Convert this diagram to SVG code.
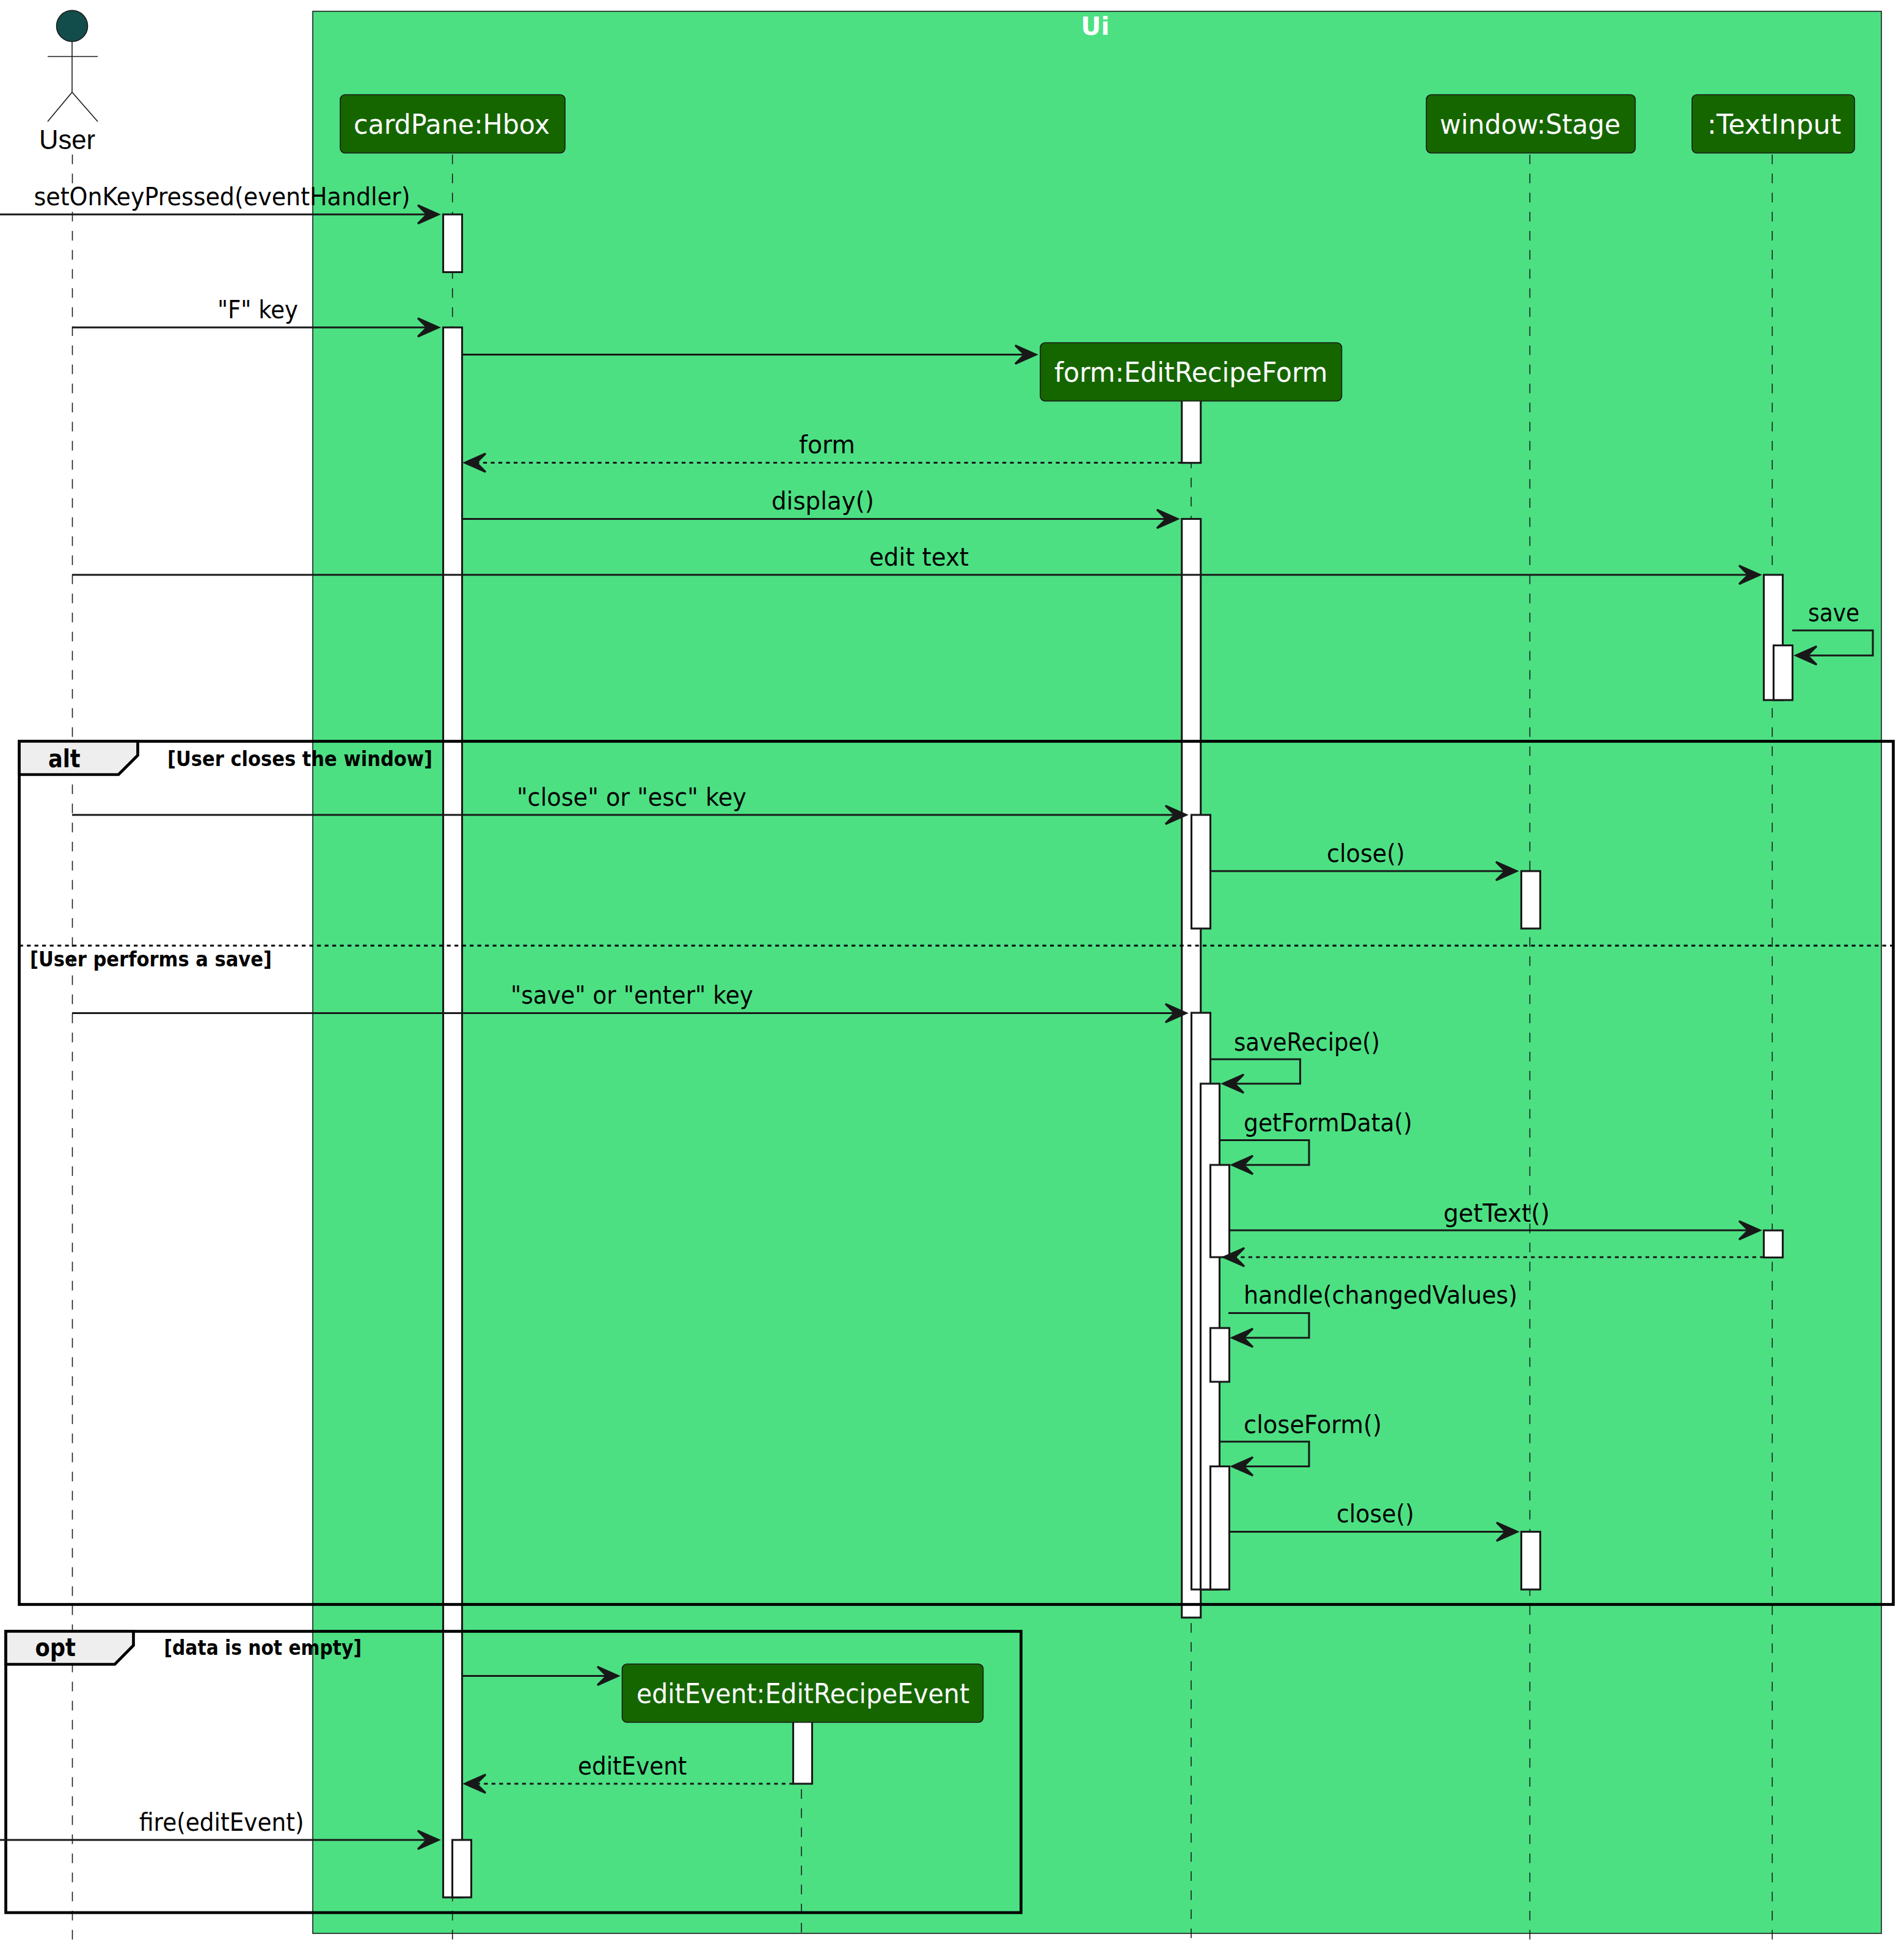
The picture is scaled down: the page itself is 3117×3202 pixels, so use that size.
<svg xmlns="http://www.w3.org/2000/svg" width="3117" height="3202" viewBox="0 0 3117 3202">
<style>
text{font-family:"DejaVu Sans","Open Sans",sans-serif;fill:#000}
.m{font-size:40.6px}
.p{font-size:43.75px;fill:#fff}
.fl{font-size:40.6px;font-weight:bold}
.c{font-size:34.4px;font-weight:bold}
.life{stroke:#181818;stroke-width:1.56;stroke-dasharray:15.625 15.625;fill:none}
.act{fill:#fff;stroke:#181818;stroke-width:3.1}
.box{fill:#166600;stroke:#181818;stroke-width:1.56}
.msg{stroke:#181818;stroke-width:3.1;fill:none;marker-end:url(#arr)}
.ret{stroke:#181818;stroke-width:3.1;fill:none;stroke-dasharray:6.25 6.25;marker-end:url(#arr)}
.frame{fill:none;stroke:#000;stroke-width:4.7}
.tab{fill:#eee;stroke:#000;stroke-width:4.7}
.actor{fill:none;stroke:#181818;stroke-width:1.56}
</style>
<defs>
<marker id="arr" markerUnits="userSpaceOnUse" markerWidth="46" markerHeight="40" refX="23" refY="20" orient="auto">
<path d="M2 5 L36 20 L2 35 L17 20 Z" fill="#181818" stroke="#181818" stroke-width="3.1"/>
</marker>
</defs>
<rect width="3117" height="3202" fill="#fff"/>
<g id="ui-box">
<rect x="512" y="18.5" width="2568" height="3146.5" fill="#4ce083" stroke="#181818" stroke-width="1.56"/>
<text x="1793" y="57" text-anchor="middle" font-size="40.6" font-weight="bold" style="fill:#fff">Ui</text>
</g>
<g id="user">
<line class="life" x1="118.5" y1="253" x2="118.5" y2="3175"/>
<ellipse cx="118" cy="42.5" rx="25.5" ry="25.5" fill="#134d4b" stroke="#181818" stroke-width="1.56"/>
<path class="actor" d="M118 68V151M78 92.5H160M78 199L118 151L160 199"/>
<text x="64" y="244" font-size="43.75" style="font-family:'Liberation Sans',Arial,sans-serif" textLength="92" lengthAdjust="spacingAndGlyphs">User</text>
</g>
<g id="cardPane">
<line class="life" x1="740.7" y1="253" x2="740.7" y2="3175"/>
<rect class="act" x="725.5" y="351" width="31" height="94.5"/>
<rect class="act" x="725.5" y="536" width="31" height="2570"/>
<rect class="act" x="740.5" y="3012" width="31" height="94"/>
<rect class="box" x="557" y="155" width="368" height="95.5" rx="8"/>
<text class="p" x="579" y="219" textLength="321" lengthAdjust="spacingAndGlyphs">cardPane:Hbox</text>
</g>
<g id="form">
<line class="life" x1="1950" y1="657" x2="1950" y2="3175"/>
<rect class="act" x="1934.7" y="640" width="31" height="117.7"/>
<rect class="act" x="1934.7" y="849.5" width="31" height="1798.5"/>
<rect class="act" x="1950.5" y="1334" width="31" height="186"/>
<rect class="act" x="1950.5" y="1658" width="31" height="944"/>
<rect class="act" x="1965.5" y="1774" width="31" height="828"/>
<rect class="act" x="1981.5" y="1907" width="31" height="151"/>
<rect class="act" x="1981.5" y="2174" width="31" height="88"/>
<rect class="act" x="1981.5" y="2400.5" width="31" height="201.5"/>
<rect class="box" x="1703" y="561" width="493.5" height="95.5" rx="8"/>
<text class="p" x="1726" y="625" textLength="447.5" lengthAdjust="spacingAndGlyphs">form:EditRecipeForm</text>
</g>
<g id="window">
<line class="life" x1="2504.5" y1="253" x2="2504.5" y2="3175"/>
<rect class="act" x="2490.5" y="1426" width="31" height="94"/>
<rect class="act" x="2490.5" y="2507.5" width="31" height="94.5"/>
<rect class="box" x="2335" y="155" width="342" height="95.5" rx="8"/>
<text class="p" x="2357" y="219" textLength="296" lengthAdjust="spacingAndGlyphs">window:Stage</text>
</g>
<g id="textInput">
<line class="life" x1="2901.3" y1="253" x2="2901.3" y2="3175"/>
<rect class="act" x="2887.5" y="941" width="31" height="205"/>
<rect class="act" x="2903.5" y="1056.5" width="31" height="89.5"/>
<rect class="act" x="2887.5" y="2014.2" width="31" height="44.3"/>
<rect class="box" x="2770" y="155" width="266" height="95.5" rx="8"/>
<text class="p" x="2795" y="219" textLength="219" lengthAdjust="spacingAndGlyphs">:TextInput</text>
</g>
<g id="editEvent">
<line class="life" x1="1312" y1="2804" x2="1312" y2="3175"/>
<rect class="act" x="1298.5" y="2800" width="31" height="120"/>
<rect class="box" x="1018.5" y="2724" width="591" height="95.5" rx="8"/>
<text class="p" x="1042" y="2787.5" textLength="545" lengthAdjust="spacingAndGlyphs">editEvent:EditRecipeEvent</text>
</g>
<g id="frames">
<g id="alt">
<rect class="frame" x="31.5" y="1213.5" width="3068" height="1413"/>
<path class="tab" d="M31.5 1213.5H225.5V1236.5L194 1268H31.5Z"/>
<text class="fl" x="79" y="1255.5" textLength="52.5" lengthAdjust="spacingAndGlyphs">alt</text>
<text class="c" x="274" y="1253.5" textLength="434" lengthAdjust="spacingAndGlyphs">[User closes the window]</text>
<line x1="31.5" y1="1548" x2="3099.5" y2="1548" stroke="#000" stroke-width="3.1" stroke-dasharray="6.25 6.25"/>
<text class="c" x="49" y="1581.5" textLength="396" lengthAdjust="spacingAndGlyphs">[User performs a save]</text>
</g>
<g id="opt">
<rect class="frame" x="9.5" y="2670.5" width="1662" height="460.5"/>
<path class="tab" d="M9.5 2670.5H218.5V2693.5L188 2724.5H9.5Z"/>
<text class="fl" x="57.5" y="2711" textLength="66.5" lengthAdjust="spacingAndGlyphs">opt</text>
<text class="c" x="268.5" y="2709" textLength="323.5" lengthAdjust="spacingAndGlyphs">[data is not empty]</text>
</g>
</g>
<g id="connectors">
<line class="msg" x1="0" y1="351" x2="705" y2="351"/>
<text class="m" x="55.5" y="336" textLength="616" lengthAdjust="spacingAndGlyphs">setOnKeyPressed(eventHandler)</text>
<line class="msg" x1="118" y1="536" x2="705" y2="536"/>
<text class="m" x="356" y="521" textLength="132" lengthAdjust="spacingAndGlyphs">"F" key</text>
<line class="msg" x1="757" y1="580.5" x2="1683" y2="580.5"/>
<line class="ret" x1="1934.7" y1="757.5" x2="774" y2="757.5"/>
<text class="m" x="1308" y="742" textLength="92" lengthAdjust="spacingAndGlyphs">form</text>
<line class="msg" x1="757" y1="849.5" x2="1915" y2="849.5"/>
<text class="m" x="1263" y="834" textLength="168" lengthAdjust="spacingAndGlyphs">display()</text>
<line class="msg" x1="118" y1="941" x2="2868" y2="941"/>
<text class="m" x="1423" y="926" textLength="163" lengthAdjust="spacingAndGlyphs">edit text</text>
<polyline class="msg" points="2934,1032 3066,1032 3066,1073 2953,1073"/>
<text class="m" x="2960" y="1017" textLength="84" lengthAdjust="spacingAndGlyphs">save</text>
<line class="msg" x1="118" y1="1334" x2="1929" y2="1334"/>
<text class="m" x="846" y="1319" textLength="376" lengthAdjust="spacingAndGlyphs">"close" or "esc" key</text>
<line class="msg" x1="1982" y1="1426" x2="2470" y2="1426"/>
<text class="m" x="2172" y="1411" textLength="128" lengthAdjust="spacingAndGlyphs">close()</text>
<line class="msg" x1="118" y1="1658.5" x2="1929" y2="1658.5"/>
<text class="m" x="836" y="1643" textLength="397" lengthAdjust="spacingAndGlyphs">"save" or "enter" key</text>
<polyline class="msg" points="1982,1734 2128.5,1734 2128.5,1774 2015,1774"/>
<text class="m" x="2020" y="1720" textLength="239" lengthAdjust="spacingAndGlyphs">saveRecipe()</text>
<polyline class="msg" points="1996.5,1866.5 2143,1866.5 2143,1907 2030,1907"/>
<text class="m" x="2036" y="1852" textLength="276" lengthAdjust="spacingAndGlyphs">getFormData()</text>
<line class="msg" x1="2013" y1="2014" x2="2868" y2="2014"/>
<text class="m" x="2363" y="2000" textLength="174" lengthAdjust="spacingAndGlyphs">getText()</text>
<line class="ret" x1="2887.5" y1="2058" x2="2016" y2="2058"/>
<polyline class="msg" points="2011,2149.5 2143,2149.5 2143,2190 2030,2190"/>
<text class="m" x="2036" y="2134" textLength="448" lengthAdjust="spacingAndGlyphs">handle(changedValues)</text>
<polyline class="msg" points="1996.5,2360 2143,2360 2143,2400.5 2030,2400.5"/>
<text class="m" x="2036" y="2345.5" textLength="226" lengthAdjust="spacingAndGlyphs">closeForm()</text>
<line class="msg" x1="2013" y1="2507.5" x2="2471" y2="2507.5"/>
<text class="m" x="2188" y="2492" textLength="127" lengthAdjust="spacingAndGlyphs">close()</text>
<line class="msg" x1="757" y1="2743.5" x2="999" y2="2743.5"/>
<line class="ret" x1="1298.5" y1="2920" x2="774" y2="2920"/>
<text class="m" x="946" y="2905" textLength="178.5" lengthAdjust="spacingAndGlyphs">editEvent</text>
<line class="msg" x1="0" y1="3012" x2="705" y2="3012"/>
<text class="m" x="228" y="2997" textLength="269.5" lengthAdjust="spacingAndGlyphs">fire(editEvent)</text>
</g>
</svg>
